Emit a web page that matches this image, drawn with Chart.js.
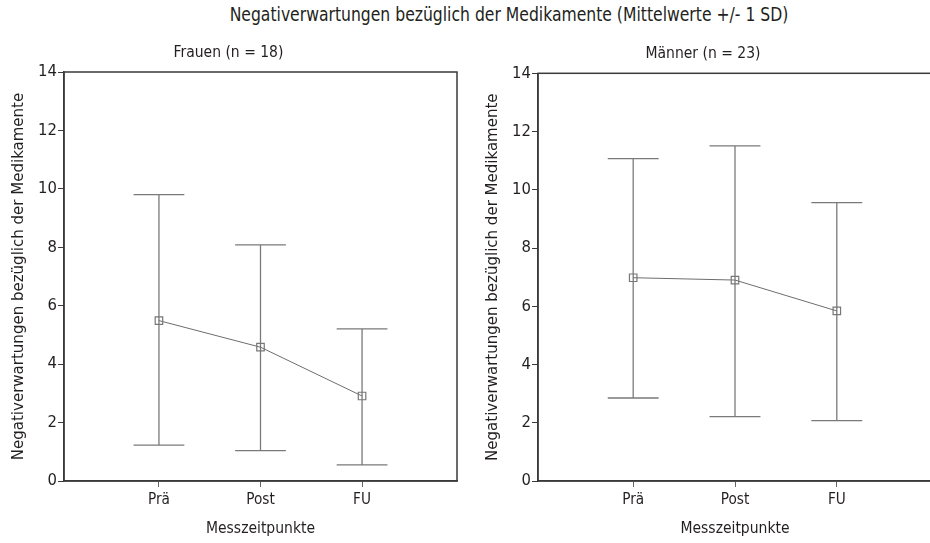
<!DOCTYPE html>
<html>
<head>
<meta charset="utf-8">
<script src="https://cdn.jsdelivr.net/npm/chart.js@4.4.0/dist/chart.umd.min.js"></script>
<style>
  html, body { margin:0; padding:0; background:#fff; }
  body { width:930px; height:543px; position:relative; overflow:hidden; }
  #mainTitle { position:absolute; left:508.5px; top:2px; white-space:nowrap;
    transform: translateX(-50%) scaleX(0.868); transform-origin: 50% 50%;
    font-family:'DejaVu Sans Condensed','DejaVu Sans',sans-serif; font-size:20px; line-height:24px; color:#231f20; }
  .panel { position:absolute; top:0; }
</style>
</head>
<body>
<div id="mainTitle">Negativerwartungen bezüglich der Medikamente (Mittelwerte +/- 1 SD)</div>
<div class="panel" style="left:0px;width:491px;height:543px"><canvas id="c1" width="491" height="543"></canvas></div>
<div class="panel" style="left:474px;width:550px;height:543px"><canvas id="c2" width="550" height="543"></canvas></div>
<script>
const categories = ['Prä', 'Post', 'FU'];
const yTicks = [0, 2, 4, 6, 8, 10, 12, 14];

const frauenMean  = [5.49, 4.58, 2.91];
const frauenUpper = [9.80, 8.08, 5.21];
const frauenLower = [1.23, 1.04, 0.55];

const maennerMean  = [6.98, 6.90, 5.84];
const maennerUpper = [11.07, 11.51, 9.56];
const maennerLower = [2.85, 2.21, 2.07];

const FONT = "'DejaVu Sans Condensed','DejaVu Sans',sans-serif";
const TEXT = '#231f20';
const FRAME = '#3a3a3a';
const BAR = '#7a7a7a';
const CAP = 0.25;

function errorDatasets(mean, upper, lower) {
  return mean.map((m, i) => {
    const x = i + 1;
    return {
      type: 'line',
      data: [
        {x: x - CAP, y: upper[i]}, {x: x + CAP, y: upper[i]}, {x: x, y: null},
        {x: x - CAP, y: lower[i]}, {x: x + CAP, y: lower[i]}, {x: x, y: null},
        {x: x, y: lower[i]}, {x: x, y: upper[i]}
      ],
      borderColor: BAR, borderWidth: 1.3, pointRadius: 0, spanGaps: false, order: 2
    };
  });
}

const framePlugin = {
  id: 'frame',
  afterDraw(chart) {
    const a = chart.chartArea, ctx = chart.ctx;
    ctx.save();
    ctx.strokeStyle = FRAME; ctx.lineWidth = 1.5;
    ctx.strokeRect(a.left, a.top, a.right - a.left, a.bottom - a.top);
    ctx.restore();
  }
};

function makeChart(id, title, mean, upper, lower, padRight, titleTop, titleBottom) {
  const ds = errorDatasets(mean, upper, lower);
  ds.push({
    type: 'line',
    data: mean.map((v, i) => ({x: i + 1, y: v})),
    borderColor: '#6d6d6d', borderWidth: 1,
    pointStyle: 'rect', pointRadius: 5.3,
    pointBorderColor: '#777', pointBorderWidth: 1.2,
    pointBackgroundColor: 'rgba(255,255,255,0)', order: 1
  });
  return new Chart(document.getElementById(id), {
    type: 'line',
    data: { datasets: ds },
    plugins: [framePlugin],
    options: {
      responsive: false, animation: false, devicePixelRatio: 1,
      layout: { padding: { left: 0, right: padRight, top: 0, bottom: 0 } },
      plugins: {
        legend: { display: false }, tooltip: { enabled: false },
        title: { display: true, text: title, color: TEXT,
          font: { family: FONT, size: 15.5, weight: 'normal', lineHeight: 1.2 },
          padding: { top: titleTop, bottom: titleBottom } }
      },
      scales: {
        x: {
          type: 'linear', min: 0.065, max: 3.935,
          afterBuildTicks: s => { s.ticks = categories.map((c, i) => ({ value: i + 1 })); },
          afterFit: s => { s.height = 62; },
          ticks: { autoSkip: false, maxRotation: 0, color: TEXT, padding: 3.5,
            font: { family: FONT, size: 15.2 },
            callback: v => categories[v - 1] },
          grid: { drawOnChartArea: false, drawTicks: true, tickLength: 6, color: '#666' },
          border: { display: true, color: FRAME, width: 1.5 },
          title: { display: true, text: 'Messzeitpunkte', color: TEXT,
            font: { family: FONT, size: 15.5 }, padding: { top: 0, bottom: 5 } }
        },
        y: {
          min: 0, max: 14,
          afterBuildTicks: s => { s.ticks = yTicks.map(v => ({ value: v })); },
          afterFit: s => { s.width = 64; },
          ticks: { color: TEXT, padding: 1, font: { family: FONT, size: 16.5 } },
          grid: { drawOnChartArea: false, drawTicks: true, tickLength: 6, color: FRAME },
          border: { display: true, color: FRAME, width: 1.5 },
          title: { display: true, text: 'Negativerwartungen bezüglich der Medikamente', color: TEXT,
            font: { family: FONT, size: 16.7 }, padding: { top: 9, bottom: 0 } }
        }
      }
    }
  });
}

makeChart('c1', 'Frauen (n = 18)', frauenMean, frauenUpper, frauenLower, 34, 43.3, 10.1);
makeChart('c2', 'Männer (n = 23)', maennerMean, maennerUpper, maennerLower, 92, 45, 9.7);
</script>
</body>
</html>
